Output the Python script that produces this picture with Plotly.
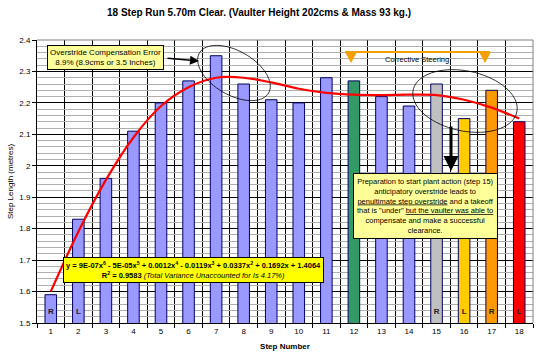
import numpy as np
import plotly.graph_objects as go

# ---------------- data ----------------
steps = list(range(1, 19))
step_length = [1.59, 1.83, 1.96, 2.11, 2.20, 2.27, 2.35, 2.26, 2.21, 2.20,
               2.28, 2.27, 2.22, 2.19, 2.26, 2.15, 2.24, 2.14]
bar_colors = ['#9999FF'] * 11 + ['#339966', '#9999FF', '#9999FF', '#C0C0C0',
                                 '#FFCC00', '#FF9900', '#FF0000']
foot = ['R', 'L'] + [''] * 12 + ['R', 'L', 'R', 'L']
trend = [1.60, 1.79, 1.955, 2.09, 2.19, 2.25, 2.28, 2.28, 2.265, 2.245,
         2.232, 2.226, 2.225, 2.226, 2.225, 2.21, 2.185, 2.15]

# ---------------- layout geometry (pixels) ----------------
W, H = 541, 358
PX0, PX1, PY0, PY1 = 37, 533, 40, 323
FONT = 'Liberation Sans, Arial, sans-serif'


def px(xp):
    return (xp - PX0) / (PX1 - PX0)


def py(yp):
    return (PY1 - yp) / (PY1 - PY0)


def to_data(xp, yp):
    xd = 0.5 + (xp - PX0) / (PX1 - PX0) * 18
    yd = 2.4 - (yp - PY0) / (PY1 - PY0) * 0.9
    return xd, yd


def ellipse_path(cx, cy, a, b, ang_deg, n=72):
    t = np.linspace(0, 2 * np.pi, n)
    ang = np.radians(ang_deg)
    xs = cx + a * np.cos(t) * np.cos(ang) - b * np.sin(t) * np.sin(ang)
    ys = cy + a * np.cos(t) * np.sin(ang) + b * np.sin(t) * np.cos(ang)
    pts = [to_data(x, y) for x, y in zip(xs, ys)]
    return 'M ' + ' L '.join(f'{x:.4f},{y:.4f}' for x, y in pts) + ' Z'


def tri_path(cx, top, half, h):
    pts = [to_data(cx - half, top), to_data(cx + half, top), to_data(cx, top + h)]
    return 'M ' + ' L '.join(f'{x:.4f},{y:.4f}' for x, y in pts) + ' Z'


fig = go.Figure()

fig.add_trace(go.Bar(
    x=steps, y=step_length, width=0.42,
    marker=dict(color=bar_colors, line=dict(color='#000060', width=1)),
    hoverinfo='x+y', showlegend=False,
))

fig.add_trace(go.Scatter(
    x=steps, y=trend, mode='lines', line=dict(color='#FF0000', width=2.2, shape='spline'),
    showlegend=False, hoverinfo='skip',
))

fig.add_trace(go.Scatter(
    x=steps, y=[1.535] * len(steps), mode='text',
    text=[f'<b>{f}</b>' if f else '' for f in foot],
    textfont=dict(family=FONT, size=8, color='#222222'),
    showlegend=False, hoverinfo='skip',
))

shapes = [
    dict(type='line', xref='paper', yref='paper', x0=0, x1=1, y0=1, y1=1,
         line=dict(color='#808080', width=1)),
    dict(type='line', xref='paper', yref='paper', x0=1, x1=1, y0=0, y1=1,
         line=dict(color='#808080', width=1)),
    dict(type='path', path=ellipse_path(234, 73, 40, 22, 30),
         line=dict(color='black', width=0.8)),
    dict(type='path', path=ellipse_path(465, 101, 53, 30, 12),
         line=dict(color='black', width=0.8)),
    dict(type='line', xref='paper', yref='paper', x0=px(345), x1=px(490),
         y0=py(52), y1=py(52), line=dict(color='#F5A000', width=2)),
    dict(type='path', path=tri_path(351, 52, 6, 11), fillcolor='#F5A000',
         line=dict(color='#F5A000', width=0)),
    dict(type='path', path=tri_path(485, 52, 6, 11), fillcolor='#F5A000',
         line=dict(color='#F5A000', width=0)),
]

C = dict(xref='paper', yref='paper', xanchor='center', yanchor='middle')

annotations = [
    dict(text='<b>18 Step Run 5.70m Clear. (Vaulter Height 202cms & Mass 93 kg.)</b>',
         x=px(259), y=py(13), showarrow=False,
         font=dict(family=FONT, size=10, color='black'), **C),
    dict(text='Overstride Compensation Error<br>8.9% (8.9cms or 3.5 Inches)',
         x=px(105), y=py(57), showarrow=False,
         bgcolor='#FFFF99', bordercolor='black', borderwidth=1, borderpad=2,
         font=dict(family=FONT, size=8, color='black'), **C),
    dict(text='', x=px(199), y=py(61),
         ax=-33, ay=-3, showarrow=True, arrowhead=2, arrowsize=1.2,
         arrowwidth=1.5, arrowcolor='black', **C),
    dict(text='Corrective Steering', x=px(417), y=py(59), showarrow=False,
         font=dict(family=FONT, size=7.5, color='black'), **C),
    dict(text='', x=px(451), y=py(171),
         ax=0, ay=-46, showarrow=True, arrowhead=2, arrowsize=1,
         arrowwidth=3, arrowcolor='black', **C),
    dict(text='Preparation to start plant action (step 15)<br>'
              'anticipatory overstride leads to<br>'
              '<u>penultimate step overstride</u> and a takeoff<br>'
              'that is "under" <u>but the vaulter was able to</u><br>'
              'compensate and make a successful<br>clearance.',
         x=px(425), y=py(206), showarrow=False,
         bgcolor='#FFFF99', bordercolor='black', borderwidth=1, borderpad=3,
         font=dict(family=FONT, size=7.5, color='black'), **C),
    dict(text='<b>y = 9E-07x<sup>6</sup> - 5E-05x<sup>5</sup> + 0.0012x<sup>4</sup> - 0.0119x<sup>3</sup>'
              ' + 0.0337x<sup>2</sup> + 0.1692x + 1.4064</b><br>'
              '<b>R<sup>2</sup> = 0.9583</b> <i>(Total Variance Unaccounted for Is 4.17%)</i>',
         x=px(193), y=py(269.5), showarrow=False,
         bgcolor='#FFFF00', bordercolor='black', borderwidth=1, borderpad=2,
         font=dict(family=FONT, size=7.5, color='black'), **C),
]

fig.update_layout(
    width=W, height=H,
    margin=dict(l=PX0, r=W - PX1, t=PY0, b=H - PY1, pad=0, autoexpand=False),
    paper_bgcolor='white', plot_bgcolor='white',
    font=dict(family=FONT, size=8, color='black'),
    shapes=shapes, annotations=annotations,
    xaxis=dict(
        range=[0.5, 18.5], tickmode='linear', tick0=1, dtick=1, automargin=False,
        showgrid=False, ticks='', zeroline=False,
        showline=True, linecolor='black', linewidth=1,
        minor=dict(tickmode='linear', tick0=0.5, dtick=1, showgrid=True,
                   gridcolor='#000000', gridwidth=1,
                   ticks='outside', ticklen=4, tickcolor='black'),
        title=dict(text='<b>Step Number</b>', font=dict(family=FONT, size=8), standoff=8),
        tickfont=dict(family=FONT, size=8),
    ),
    yaxis=dict(
        range=[1.5, 2.4], tickmode='linear', tick0=1.5, dtick=0.1, automargin=False,
        showgrid=True, gridcolor='#000000', gridwidth=1, zeroline=False,
        showline=True, linecolor='black', linewidth=1,
        ticks='outside', ticklen=4, tickcolor='black',
        minor=dict(tickmode='linear', tick0=1.5, dtick=0.02, showgrid=True,
                   gridcolor='#B0B0B0', gridwidth=1),
        title=dict(text='Step Length (metres)', font=dict(family=FONT, size=8), standoff=4),
        tickfont=dict(family=FONT, size=8),
    ),
)

fig.write_html('out.html', config={'displayModeBar': False},
               post_script="document.body.style.margin='0';document.body.style.overflow='hidden';")
